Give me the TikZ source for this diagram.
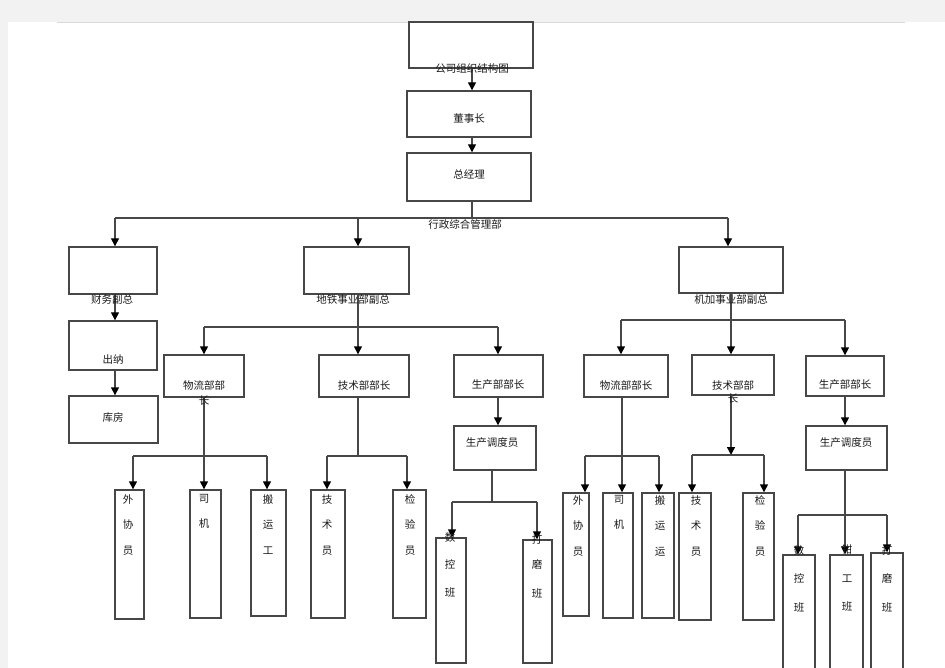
\documentclass[tikz,border=0pt]{standalone}
\usepackage{fontspec}
\newfontfamily\cjk{Noto Sans CJK SC}
\usetikzlibrary{arrows.meta}
\usetikzlibrary{positioning}

\begin{document}
\begin{tikzpicture}[x=1pt,y=-1pt,
    box/.style={draw=black!72, line width=1.4pt, inner sep=0pt},
    ln/.style={draw=black!72, line width=1.4pt},
    arr/.style={-{Triangle[length=8pt,width=8pt,black]}},
    txt/.style={font=\cjk\fontsize{10.5}{12}\selectfont, text=black!90, inner sep=0pt},
    vt/.style={txt, align=center, anchor=north, font=\cjk\fontsize{10.5}{25.5}\selectfont}]
  \useasboundingbox (0,0) rectangle (945,668);
  %page edge
  \fill[black!5] (0,0) rectangle (945,22);
  \fill[black!5] (0,22) rectangle (8,668);
  \draw[black!15] (57,22) -- (905,22);

  %top levels
  \node[box, minimum width=124pt, minimum height=46pt] (top) at (471,45) {};
  \node[box, minimum width=124pt, minimum height=46pt] (dsz) at (469,114) {};
  \node[box, minimum width=124pt, minimum height=48pt] (zjl) at (469,177) {};
  \node[box, minimum width=88pt, minimum height=47pt] (cw) at (113,270.5) {};
  \node[box, minimum width=105pt, minimum height=47pt] (dt) at (356.5,270.5) {};
  \node[box, minimum width=104pt, minimum height=46pt] (jj) at (731,270) {};
  \node[box, minimum width=88pt, minimum height=49pt] (cn) at (113,345.5) {};
  \node[box, minimum width=89pt, minimum height=47pt] (kf) at (113.5,419.5) {};

  %metro side
  \node[box, minimum width=80pt, minimum height=42pt] (wl1) at (204,376) {};
  \node[box, minimum width=90pt, minimum height=42pt] (js1) at (364,376) {};
  \node[box, minimum width=89pt, minimum height=42pt] (sc1) at (498.5,376) {};
  \node[box, minimum width=82pt, minimum height=44pt] (dd1) at (495,448) {};
  \node[box, minimum width=29pt, minimum height=129pt] (wx1) at (129.5,554.5) {};
  \node[box, minimum width=31pt, minimum height=128pt] (sj1) at (205.5,554) {};
  \node[box, minimum width=35pt, minimum height=126pt] (by1) at (268.5,553) {};
  \node[box, minimum width=34pt, minimum height=128pt] (jsy1) at (328,554) {};
  \node[box, minimum width=33pt, minimum height=128pt] (jy1) at (409.5,554) {};
  \node[box, minimum width=30pt, minimum height=125pt] (sk1) at (451,600.5) {};
  \node[box, minimum width=29pt, minimum height=123pt] (dm1) at (537.5,601.5) {};

  %machining side
  \node[box, minimum width=84pt, minimum height=42pt] (wl2) at (626,376) {};
  \node[box, minimum width=82pt, minimum height=40pt] (js2) at (733,375) {};
  \node[box, minimum width=78pt, minimum height=40pt] (sc2) at (845,376) {};
  \node[box, minimum width=81pt, minimum height=44pt] (dd2) at (846.5,448) {};
  \node[box, minimum width=26pt, minimum height=123pt] (wx2) at (576,554.5) {};
  \node[box, minimum width=30pt, minimum height=125pt] (sj2) at (618,555.5) {};
  \node[box, minimum width=32pt, minimum height=125pt] (by2) at (658,555.5) {};
  \node[box, minimum width=32pt, minimum height=127pt] (jsy2) at (695,556.5) {};
  \node[box, minimum width=31pt, minimum height=127pt] (jy2) at (758.5,556.5) {};
  \node[box, minimum width=32pt, minimum height=124pt] (sk2) at (799,617) {};
  \node[box, minimum width=33pt, minimum height=124pt] (qg2) at (846.5,617) {};
  \node[box, minimum width=32pt, minimum height=126pt] (dm2) at (887,616) {};

  %bus points
  \coordinate (b1a) at (115,218);
  \coordinate (b1b) at (358,218);
  \coordinate (b1c) at (728,218);
  \coordinate (b2a) at (204,327);
  \coordinate (b2b) at (358,327);
  \coordinate (b2c) at (498,327);
  \coordinate (b3a) at (133,456);
  \coordinate (b3b) at (204,456);
  \coordinate (b3c) at (267,456);
  \coordinate (b4a) at (327,456);
  \coordinate (b4b) at (407,456);
  \coordinate (b5m) at (492,502);
  \coordinate (b5a) at (452,502);
  \coordinate (b5b) at (537,502);
  \coordinate (b6a) at (621,320);
  \coordinate (b6b) at (731,320);
  \coordinate (b6c) at (845,320);
  \coordinate (b7a) at (585,456);
  \coordinate (b7b) at (622,456);
  \coordinate (b7c) at (659,456);
  \coordinate (b8m) at (731,455);
  \coordinate (b8a) at (692,455);
  \coordinate (b8b) at (764,455);
  \coordinate (b9a) at (798,515);
  \coordinate (b9b) at (845,515);
  \coordinate (b9c) at (887,515);

  %connectors
  \draw[ln,arr] (top.south -| 472,0) -- (dsz.north -| 472,0);
  \draw[ln,arr] (dsz.south -| 472,0) -- (zjl.north -| 472,0);
  \draw[ln] (zjl.south -| 472,0) -- (b1a -| 472,0);
  \draw[ln] (b1a) -- (b1c);
  \foreach \c/\n in {b1a/cw, b1b/dt, b1c/jj}
    \draw[ln,arr] (\c) -- (\c |- \n.north);
  \draw[ln,arr] (b1a |- cw.south) -- (b1a |- cn.north);
  \draw[ln,arr] (b1a |- cn.south) -- (b1a |- kf.north);

  \draw[ln] (b1b |- dt.south) -- (b2b);
  \draw[ln] (b2a) -- (b2c);
  \foreach \c/\n in {b2a/wl1, b2b/js1, b2c/sc1}
    \draw[ln,arr] (\c) -- (\c |- \n.north);
  \draw[ln,arr] (b2c |- sc1.south) -- (b2c |- dd1.north);

  \draw[ln,arr] (b3b |- wl1.south) -- (b3b |- sj1.north);
  \draw[ln] (b3a) -- (b3c);
  \foreach \c/\n in {b3a/wx1, b3c/by1}
    \draw[ln,arr] (\c) -- (\c |- \n.north);

  \draw[ln] (b2b |- js1.south) -- (b2b |- b4a);
  \draw[ln] (b4a) -- (b4b);
  \foreach \c/\n in {b4a/jsy1, b4b/jy1}
    \draw[ln,arr] (\c) -- (\c |- \n.north);

  \draw[ln] (b5m |- dd1.south) -- (b5m);
  \draw[ln] (b5a) -- (b5b);
  \foreach \c/\n in {b5a/sk1, b5b/dm1}
    \draw[ln,arr] (\c) -- (\c |- \n.north);

  \draw[ln] (b6b |- jj.south) -- (b6b);
  \draw[ln] (b6a) -- (b6c);
  \foreach \c/\n in {b6a/wl2, b6b/js2, b6c/sc2}
    \draw[ln,arr] (\c) -- (\c |- \n.north);
  \draw[ln,arr] (b6c |- sc2.south) -- (b6c |- dd2.north);

  \draw[ln,arr] (b7b |- wl2.south) -- (b7b |- sj2.north);
  \draw[ln] (b7a) -- (b7c);
  \foreach \c/\n in {b7a/wx2, b7c/by2}
    \draw[ln,arr] (\c) -- (\c |- \n.north);

  \draw[ln,arr] (b8m |- js2.south) -- (b8m);
  \draw[ln] (b8a) -- (b8b);
  \foreach \c/\n in {b8a/jsy2, b8b/jy2}
    \draw[ln,arr] (\c) -- (\c |- \n.north);

  \draw[ln,arr] (b9b |- dd2.south) -- (b9b |- qg2.north);
  \draw[ln] (b9a) -- (b9c);
  \foreach \c/\n in {b9a/sk2, b9c/dm2}
    \draw[ln,arr] (\c) -- (\c |- \n.north);

  %labels
  \node[txt] (l-top) at (472,69) {公司组织结构图};
  \node[txt] (l-dsz) at (469,119) {董事长};
  \node[txt] (l-zjl) at (469,174) {总经理};
  \node[txt] (l-xz) at (465,225) {行政综合管理部};
  \node[txt] (l-cw) at (112,300) {财务副总};
  \node[txt] (l-dt) at (353,300) {地铁事业部副总};
  \node[txt] (l-jj) at (731,300) {机加事业部副总};
  \node[txt] (l-cn) at (113,360) {出纳};
  \node[txt] (l-kf) at (113,418) {库房};
  \node[txt, align=center] (l-wl1) at (204,392.5) {物流部部\\[3pt]长};
  \node[txt] (l-js1) at (364,385) {技术部部长};
  \node[txt] (l-sc1) at (498,385) {生产部部长};
  \node[txt] (l-dd1) at (492,443) {生产调度员};
  \node[txt] (l-wl2) at (626,385) {物流部部长};
  \node[txt, align=center] (l-js2) at (733,391.5) {技术部部\\[1pt]长};
  \node[txt] (l-sc2) at (845,385) {生产部部长};
  \node[txt] (l-dd2) at (846,443) {生产调度员};

  %vertical labels
  \node[vt] (v-wx1) at (128,494) {外\\协\\员};
  \node[vt] (v-sj1) at (204,494) {司\\机};
  \node[vt] (v-by1) at (268,494) {搬\\运\\工};
  \node[vt] (v-jsy1) at (327,494) {技\\术\\员};
  \node[vt] (v-jy1) at (410,494) {检\\验\\员};
  \node[vt] (v-sk1) at (450,532) {数\\[2pt]控\\[2pt]班};
  \node[vt] (v-dm1) at (537,534) {打\\磨\\[3pt]班};
  \node[vt] (v-wx2) at (578,495) {外\\协\\员};
  \node[vt] (v-sj2) at (619,495) {司\\机};
  \node[vt] (v-by2) at (660,495) {搬\\运\\运};
  \node[vt] (v-jsy2) at (696,495) {技\\术\\员};
  \node[vt] (v-jy2) at (760,495) {检\\验\\员};
  \node[vt] (v-sk2) at (799,545) {数\\[3pt]控\\[3pt]班};
  \node[vt] (v-qg2) at (847,545) {钳\\[3pt]工\\[3pt]班};
  \node[vt] (v-dm2) at (887,545) {打\\[3pt]磨\\[3pt]班};
\end{tikzpicture}
\end{document}
